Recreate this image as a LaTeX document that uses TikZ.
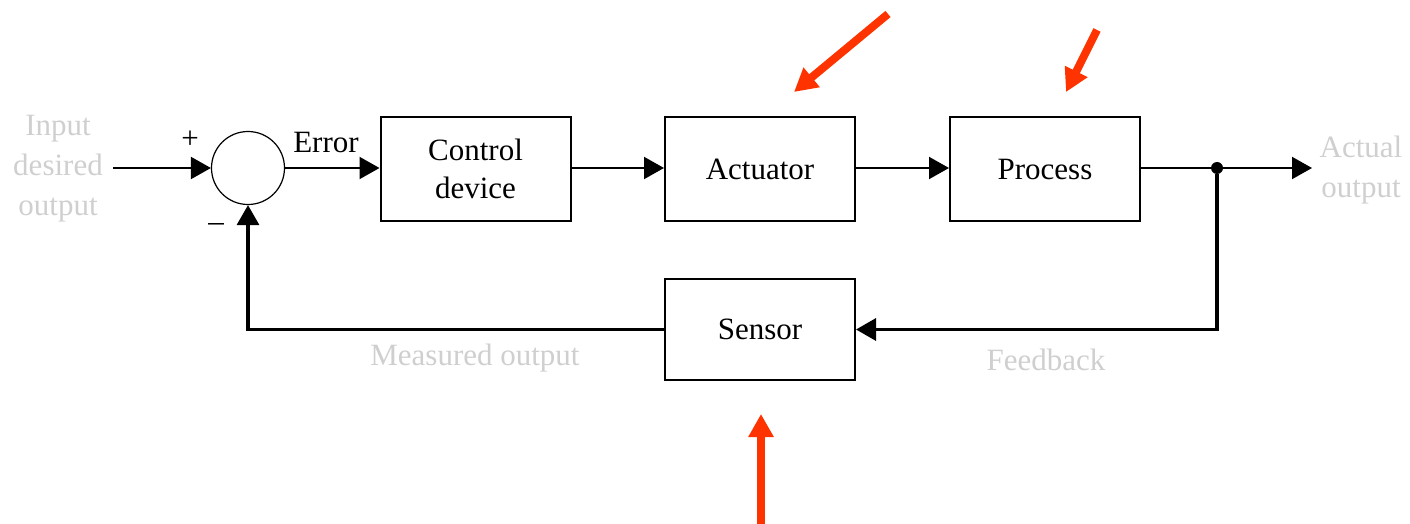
\documentclass[tikz,border=0pt]{standalone}
\usepackage{fontspec}
\setmainfont{Liberation Serif}
\usetikzlibrary{arrows.meta}
\definecolor{labelgray}{HTML}{CFCFCF}
\definecolor{callout}{HTML}{FF3300}
\begin{document}
\begin{tikzpicture}[x={(0.5pt,0)},y={(0,-0.5pt)},
  font=\fontsize{15.5pt}{20pt}\selectfont,
  block/.style={draw,line width=1pt,minimum width=95pt,minimum height=52pt,inner sep=0pt,align=center},
  sumnode/.style={draw,circle,line width=0.6pt,minimum size=36.5pt,inner sep=0pt},
  signal/.style={line width=1pt,-{Triangle[length=10pt,width=11pt]}},
  fback/.style={line width=1.6pt},
  fbackarrow/.style={line width=1.6pt,-{Triangle[length=10pt,width=11pt]}},
  note/.style={text=labelgray,align=center,inner sep=0pt},
  pointer/.style={callout,line width=4pt,-{Triangle[length=11.5pt,width=12pt]}}]
\useasboundingbox (0,0) rectangle (1410,524);

% blocks
\node[sumnode] (sum) at (248,168) {};
\node[block] (ctrl) at (475.5,169) {Control\\[-1pt]device};
\node[block] (act) at (760,169.5) {Actuator};
\node[block] (proc) at (1045,169.5) {Process};
\node[block,minimum height=50.5pt] (sens) at (760,329.5) {Sensor};
\node[circle,fill,minimum size=6pt,inner sep=0pt] (dot) at (1217,168) {};

% signal labels
\node[note] (inlab) at (58,169) {Input\\desired\\output};
\node[note] (outlab) at (1361,170) {Actual\\output};
\node[note] (meas) at (475,358) {Measured output};
\node[note] (fblab) at (1046,360) {Feedback};
\node[inner sep=0pt] (plus) at (190,140) {+};
\node[inner sep=0pt] (minus) at (216,228) {\textendash};
\node[inner sep=0pt] (err) at (326,143) {Error};

\coordinate (instart) at (113,168);
\coordinate (outend) at (1312,168);

% forward path
\draw[signal] (instart) -- (sum.west);
\draw[signal] (sum.east) -- (ctrl.west |- sum.east);
\draw[signal] (ctrl.east |- sum.east) -- (act.west |- sum.east);
\draw[signal] (act.east |- sum.east) -- (proc.west |- sum.east);
\draw[line width=1pt] (proc.east |- sum.east) -- (dot);
\draw[signal] (dot) -- (outend);

% feedback path
\draw[fbackarrow] (dot) |- (sens.east);
\draw[fbackarrow] (sens.west) -| (sum.south);

% callout arrows
\coordinate (p1s) at (888,14);   \coordinate (p1e) at (794,92);
\coordinate (p2s) at (1097,30);  \coordinate (p2e) at (1066,92);
\coordinate (p3s) at (761,524);  \coordinate (p3e) at (761,414);
\draw[pointer] (p1s) -- (p1e);
\draw[pointer] (p2s) -- (p2e);
\draw[pointer] (p3s) -- (p3e);
\end{tikzpicture}
\end{document}
